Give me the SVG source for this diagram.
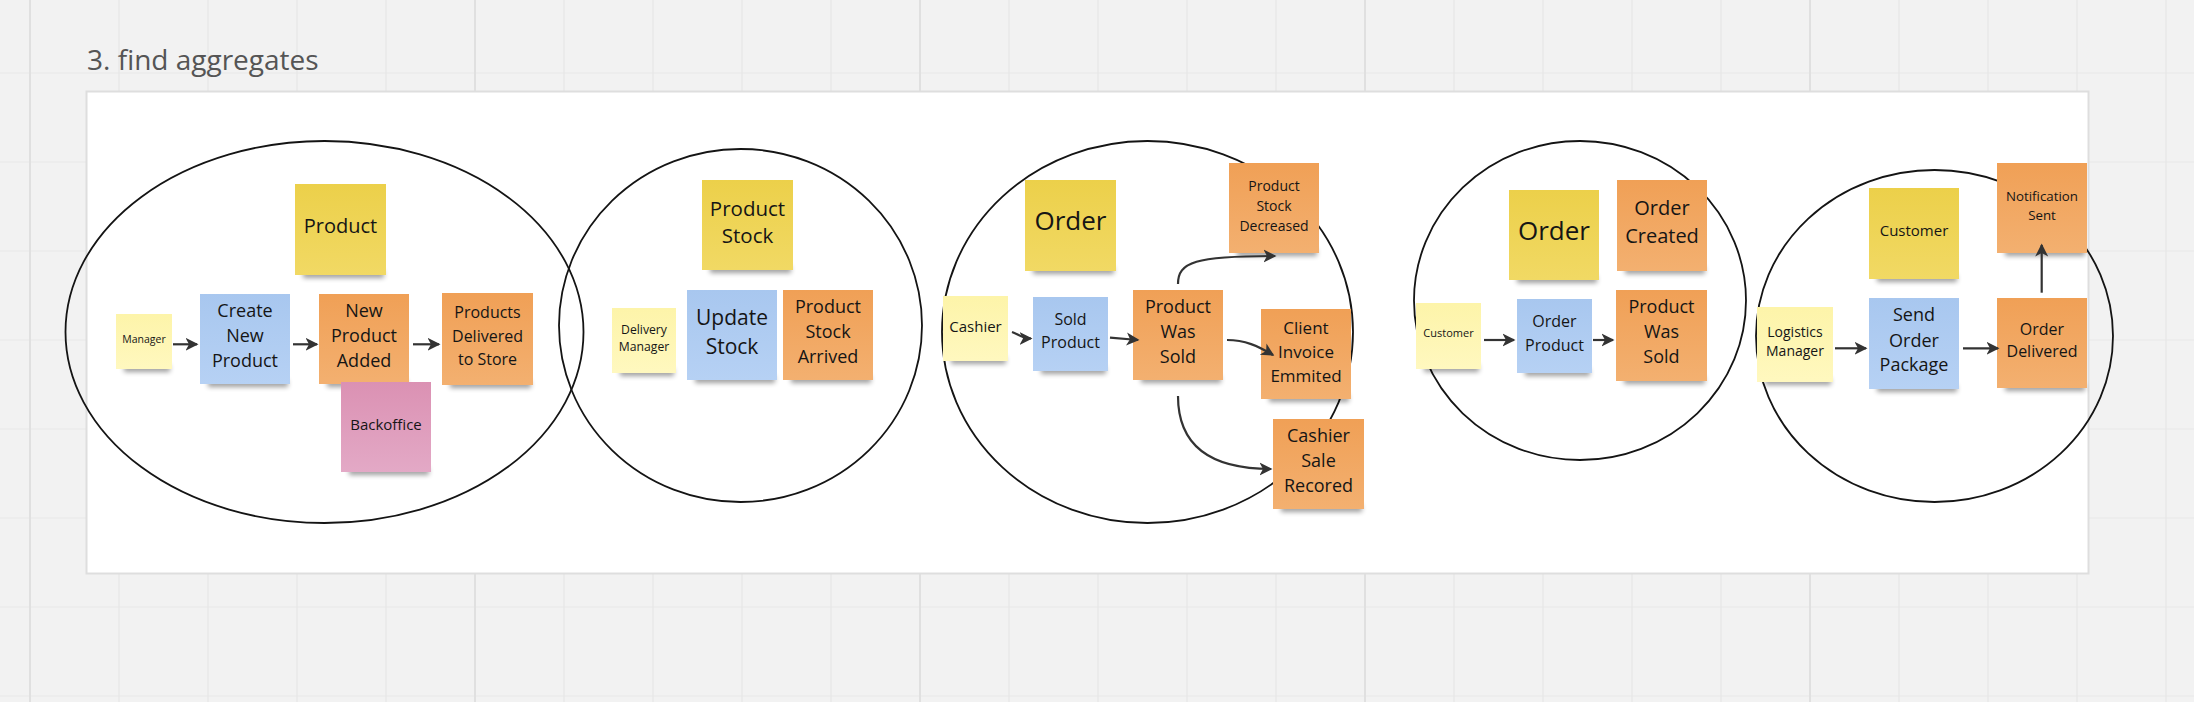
<svg xmlns="http://www.w3.org/2000/svg" width="2194" height="702" viewBox="0 0 2194 702">
<style>
.t{font-family:"Open Sans","Liberation Sans",Arial,sans-serif;text-anchor:middle;fill:#151515}
.sh{fill:#000;opacity:.38}
.ell{fill:none;stroke:#141414;stroke-width:1.8}
.c{fill:none;stroke:#333;stroke-width:2.2}
.minor{stroke:#e7e7e7;stroke-width:1.2;fill:none}
.major{stroke:#e0e0e0;stroke-width:2;fill:none}
</style>
<defs>
<filter id="blur" x="-20%" y="-100%" width="140%" height="300%"><feGaussianBlur stdDeviation="2.6"/></filter>
<linearGradient id="gY" x1="0" y1="0" x2="0" y2="1"><stop offset="0" stop-color="#ecd04a"/><stop offset="1" stop-color="#f1d964"/></linearGradient>
<linearGradient id="gL" x1="0" y1="0" x2="0" y2="1"><stop offset="0" stop-color="#fdf4a9"/><stop offset="1" stop-color="#fff8bf"/></linearGradient>
<linearGradient id="gB" x1="0" y1="0" x2="0" y2="1"><stop offset="0" stop-color="#a8c7ef"/><stop offset="1" stop-color="#b6d1f4"/></linearGradient>
<linearGradient id="gO" x1="0" y1="0" x2="0" y2="1"><stop offset="0" stop-color="#f0a056"/><stop offset="1" stop-color="#f3b070"/></linearGradient>
<linearGradient id="gP" x1="0" y1="0" x2="0" y2="1"><stop offset="0" stop-color="#db91b3"/><stop offset="1" stop-color="#e3a9c6"/></linearGradient>
<marker id="arr" markerUnits="userSpaceOnUse" markerWidth="14" markerHeight="14" refX="11.5" refY="7" orient="auto"><path d="M0,0.5 L13,7 L0,13.5 L3.5,7 Z" fill="#333"/></marker>
</defs>

<g id="background">
<rect x="0" y="0" width="2194" height="702" fill="#f2f2f2"/>
<path class="minor" d="M119,0V702M208,0V702M297,0V702M386,0V702M564,0V702M653,0V702M742,0V702M831,0V702M1009,0V702M1098,0V702M1187,0V702M1276,0V702M1454,0V702M1543,0V702M1632,0V702M1721,0V702M1899,0V702M1988,0V702M2077,0V702M2166,0V702M0,73H2194M0,162H2194M0,251H2194M0,340H2194M0,429H2194M0,518H2194M0,607H2194M0,696H2194"/>
<path class="major" d="M30,0V702M475,0V702M920,0V702M1365,0V702M1810,0V702"/>
</g>

<g id="title"><text x="87" y="70" style="font-family:'Open Sans','Liberation Sans',Arial,sans-serif;font-size:28px;fill:#555">3. find aggregates</text></g>

<g id="panel"><rect x="86.5" y="91.5" width="2002" height="482" fill="#fff" stroke="#dedede" stroke-width="2"/></g>

<g id="aggregate-boundaries">
<ellipse id="boundary-product" class="ell" cx="324.5" cy="332" rx="259" ry="191"/>
<ellipse id="boundary-product-stock" class="ell" cx="740.5" cy="325.5" rx="181.5" ry="176.5"/>
<ellipse id="boundary-order-1" class="ell" cx="1147.5" cy="332" rx="205.5" ry="191"/>
<ellipse id="boundary-order-2" class="ell" cx="1580" cy="300.5" rx="166" ry="159.5"/>
<ellipse id="boundary-customer" class="ell" cx="1934.5" cy="336" rx="178.5" ry="166"/>
</g>

<!-- Aggregate 1: Product -->
<g id="manager">
<rect class="sh" x="124" y="365" width="46" height="7" filter="url(#blur)"/>
<rect x="116" y="314" width="56" height="55" fill="url(#gL)"/>
<text class="t" x="144" y="342.7" font-size="10.5">Manager</text>
</g>
<g id="create-new-product">
<rect class="sh" x="208" y="380" width="80" height="7" filter="url(#blur)"/>
<rect x="200" y="294" width="90" height="90" fill="url(#gB)"/>
<text class="t" font-size="18"><tspan x="245" y="316.7">Create</tspan><tspan x="245" y="341.7">New</tspan><tspan x="245" y="366.7">Product</tspan></text>
</g>
<g id="product">
<rect class="sh" x="303" y="271" width="81" height="7" filter="url(#blur)"/>
<rect x="295" y="184" width="91" height="91" fill="url(#gY)"/>
<text class="t" x="340.5" y="232.7" font-size="20">Product</text>
</g>
<g id="new-product-added">
<rect class="sh" x="327" y="380" width="80" height="7" filter="url(#blur)"/>
<rect x="319" y="294" width="90" height="90" fill="url(#gO)"/>
<text class="t" font-size="18"><tspan x="364" y="316.7">New</tspan><tspan x="364" y="341.7">Product</tspan><tspan x="364" y="366.7">Added</tspan></text>
</g>
<g id="backoffice">
<rect class="sh" x="349" y="468" width="80" height="7" filter="url(#blur)"/>
<rect x="341" y="382" width="90" height="90" fill="url(#gP)"/>
<text class="t" x="386" y="430" font-size="15">Backoffice</text>
</g>
<g id="products-delivered-to-store">
<rect class="sh" x="450" y="381" width="81" height="7" filter="url(#blur)"/>
<rect x="442" y="293" width="91" height="92" fill="url(#gO)"/>
<text class="t" font-size="16"><tspan x="487.5" y="318.3">Products</tspan><tspan x="487.5" y="341.7">Delivered</tspan><tspan x="487.5" y="365">to Store</tspan></text>
</g>

<!-- Aggregate 2: Product Stock -->
<g id="delivery-manager">
<rect class="sh" x="620" y="369" width="54" height="7" filter="url(#blur)"/>
<rect x="612" y="308" width="64" height="65" fill="url(#gL)"/>
<text class="t" font-size="12.2"><tspan x="644" y="334.3">Delivery</tspan><tspan x="644" y="351">Manager</tspan></text>
</g>
<g id="product-stock">
<rect class="sh" x="710" y="266" width="81" height="7" filter="url(#blur)"/>
<rect x="702" y="180" width="91" height="90" fill="url(#gY)"/>
<text class="t" font-size="20.5"><tspan x="747.5" y="216">Product</tspan><tspan x="747.5" y="243.3">Stock</tspan></text>
</g>
<g id="update-stock">
<rect class="sh" x="695" y="376" width="80" height="7" filter="url(#blur)"/>
<rect x="687" y="290" width="90" height="90" fill="url(#gB)"/>
<text class="t" font-size="21"><tspan x="732" y="325">Update</tspan><tspan x="732" y="354">Stock</tspan></text>
</g>
<g id="product-stock-arrived">
<rect class="sh" x="791" y="376" width="80" height="7" filter="url(#blur)"/>
<rect x="783" y="290" width="90" height="90" fill="url(#gO)"/>
<text class="t" font-size="18"><tspan x="828" y="313.3">Product</tspan><tspan x="828" y="338.3">Stock</tspan><tspan x="828" y="363.3">Arrived</tspan></text>
</g>

<!-- Aggregate 3: Order -->
<g id="order-1">
<rect class="sh" x="1033" y="267" width="81" height="7" filter="url(#blur)"/>
<rect x="1025" y="180" width="91" height="91" fill="url(#gY)"/>
<text class="t" x="1070.5" y="230" font-size="26">Order</text>
</g>
<g id="cashier">
<rect class="sh" x="951" y="357" width="55" height="7" filter="url(#blur)"/>
<rect x="943" y="296" width="65" height="65" fill="url(#gL)"/>
<text class="t" x="975.5" y="331.7" font-size="15">Cashier</text>
</g>
<g id="sold-product">
<rect class="sh" x="1041" y="367" width="65" height="7" filter="url(#blur)"/>
<rect x="1033" y="297" width="75" height="74" fill="url(#gB)"/>
<text class="t" font-size="16"><tspan x="1070.5" y="325">Sold</tspan><tspan x="1070.5" y="348.3">Product</tspan></text>
</g>
<g id="product-was-sold-1">
<rect class="sh" x="1141" y="376" width="80" height="7" filter="url(#blur)"/>
<rect x="1133" y="290" width="90" height="90" fill="url(#gO)"/>
<text class="t" font-size="18"><tspan x="1178" y="312.7">Product</tspan><tspan x="1178" y="337.7">Was</tspan><tspan x="1178" y="362.7">Sold</tspan></text>
</g>
<g id="product-stock-decreased">
<rect class="sh" x="1237" y="249" width="80" height="7" filter="url(#blur)"/>
<rect x="1229" y="163" width="90" height="90" fill="url(#gO)"/>
<text class="t" font-size="14"><tspan x="1274" y="191">Product</tspan><tspan x="1274" y="211">Stock</tspan><tspan x="1274" y="231">Decreased</tspan></text>
</g>
<g id="client-invoice-emmited">
<rect class="sh" x="1269" y="395" width="80" height="7" filter="url(#blur)"/>
<rect x="1261" y="309" width="90" height="90" fill="url(#gO)"/>
<text class="t" font-size="17"><tspan x="1306" y="334">Client</tspan><tspan x="1306" y="358.3">Invoice</tspan><tspan x="1306" y="381.7">Emmited</tspan></text>
</g>
<g id="cashier-sale-recored">
<rect class="sh" x="1281" y="505" width="81" height="7" filter="url(#blur)"/>
<rect x="1273" y="419" width="91" height="90" fill="url(#gO)"/>
<text class="t" font-size="18"><tspan x="1318.5" y="441.7">Cashier</tspan><tspan x="1318.5" y="466.7">Sale</tspan><tspan x="1318.5" y="491.7">Recored</tspan></text>
</g>

<!-- Aggregate 4: Order -->
<g id="order-2">
<rect class="sh" x="1517" y="276" width="80" height="7" filter="url(#blur)"/>
<rect x="1509" y="190" width="90" height="90" fill="url(#gY)"/>
<text class="t" x="1554" y="240" font-size="26">Order</text>
</g>
<g id="order-created">
<rect class="sh" x="1625" y="267" width="80" height="7" filter="url(#blur)"/>
<rect x="1617" y="180" width="90" height="91" fill="url(#gO)"/>
<text class="t" font-size="20"><tspan x="1662" y="215">Order</tspan><tspan x="1662" y="242.7">Created</tspan></text>
</g>
<g id="customer-actor">
<rect class="sh" x="1424" y="365" width="55" height="7" filter="url(#blur)"/>
<rect x="1416" y="303" width="65" height="66" fill="url(#gL)"/>
<text class="t" x="1448.5" y="337.3" font-size="11">Customer</text>
</g>
<g id="order-product">
<rect class="sh" x="1525" y="369" width="65" height="7" filter="url(#blur)"/>
<rect x="1517" y="299" width="75" height="74" fill="url(#gB)"/>
<text class="t" font-size="16"><tspan x="1554.5" y="327.3">Order</tspan><tspan x="1554.5" y="350.7">Product</tspan></text>
</g>
<g id="product-was-sold-2">
<rect class="sh" x="1624" y="377" width="81" height="7" filter="url(#blur)"/>
<rect x="1616" y="290" width="91" height="91" fill="url(#gO)"/>
<text class="t" font-size="18"><tspan x="1661.5" y="312.7">Product</tspan><tspan x="1661.5" y="337.7">Was</tspan><tspan x="1661.5" y="362.7">Sold</tspan></text>
</g>

<!-- Aggregate 5: Customer -->
<g id="customer">
<rect class="sh" x="1877" y="275" width="80" height="7" filter="url(#blur)"/>
<rect x="1869" y="188" width="90" height="91" fill="url(#gY)"/>
<text class="t" x="1914" y="236" font-size="15">Customer</text>
</g>
<g id="notification-sent">
<rect class="sh" x="2005" y="249" width="80" height="7" filter="url(#blur)"/>
<rect x="1997" y="163" width="90" height="90" fill="url(#gO)"/>
<text class="t" font-size="13.3"><tspan x="2042" y="201">Notification</tspan><tspan x="2042" y="220">Sent</tspan></text>
</g>
<g id="logistics-manager">
<rect class="sh" x="1765" y="378" width="66" height="7" filter="url(#blur)"/>
<rect x="1757" y="307" width="76" height="75" fill="url(#gL)"/>
<text class="t" font-size="14"><tspan x="1795" y="336.7">Logistics</tspan><tspan x="1795" y="356">Manager</tspan></text>
</g>
<g id="send-order-package">
<rect class="sh" x="1877" y="385" width="80" height="7" filter="url(#blur)"/>
<rect x="1869" y="298" width="90" height="91" fill="url(#gB)"/>
<text class="t" font-size="18"><tspan x="1914" y="321">Send</tspan><tspan x="1914" y="346.7">Order</tspan><tspan x="1914" y="370.7">Package</tspan></text>
</g>
<g id="order-delivered">
<rect class="sh" x="2005" y="384" width="80" height="7" filter="url(#blur)"/>
<rect x="1997" y="298" width="90" height="90" fill="url(#gO)"/>
<text class="t" font-size="16"><tspan x="2042" y="335">Order</tspan><tspan x="2042" y="356.7">Delivered</tspan></text>
</g>

<g id="connectors">
<path class="c" marker-end="url(#arr)" d="M173,344.3 L197,344.3"/>
<path class="c" marker-end="url(#arr)" d="M293,344.3 L317,344.3"/>
<path class="c" marker-end="url(#arr)" d="M413,344.3 L439,344.3"/>
<path class="c" marker-end="url(#arr)" d="M1012,332 C1018,334 1022,338.5 1031,338.5"/>
<path class="c" marker-end="url(#arr)" d="M1110,337.7 L1138,340"/>
<path class="c" marker-end="url(#arr)" d="M1178,284 C1178,262 1195,256 1275,256"/>
<path class="c" marker-end="url(#arr)" d="M1227,340 C1245,340 1258,346 1273,355"/>
<path class="c" marker-end="url(#arr)" d="M1178,396 C1178,445 1210,469 1271,469"/>
<path class="c" marker-end="url(#arr)" d="M1484,340 L1514,340"/>
<path class="c" marker-end="url(#arr)" d="M1593,340 L1613,340"/>
<path class="c" marker-end="url(#arr)" d="M1835,348.3 L1866,348.3"/>
<path class="c" marker-end="url(#arr)" d="M1963,348.3 L1998,348.3"/>
<path class="c" marker-end="url(#arr)" d="M2041.7,292.7 L2041.7,245"/>
</g>
</svg>
